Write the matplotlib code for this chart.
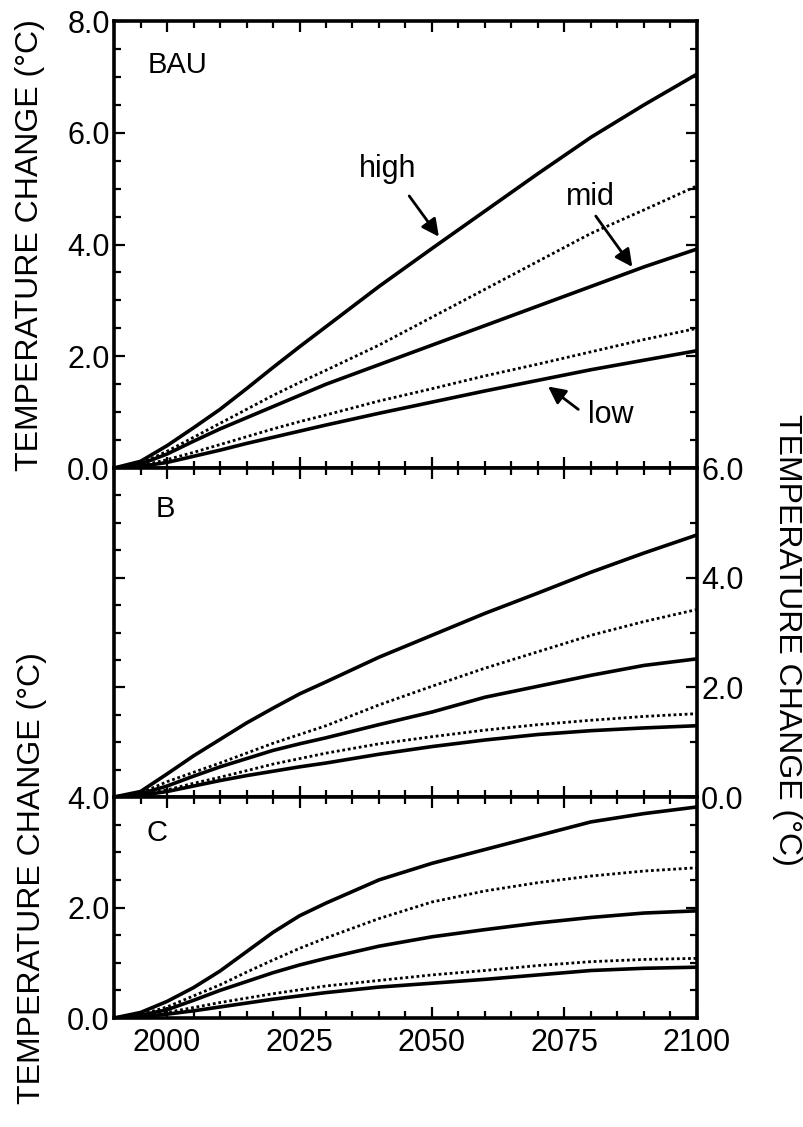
import matplotlib
matplotlib.use("Agg")
import matplotlib.pyplot as plt
from matplotlib.ticker import MultipleLocator, FormatStrFormatter

plt.rcParams['font.family'] = ['Liberation Sans', 'DejaVu Sans']

years = [1990, 1995, 2000, 2005, 2010, 2015, 2020, 2025, 2030, 2040, 2050, 2060, 2070, 2080, 2090, 2100]

# scenario BAU
bau_high = [0, 0.12, 0.4, 0.72, 1.05, 1.42, 1.8, 2.17, 2.53, 3.25, 3.93, 4.6, 5.27, 5.92, 6.5, 7.05]
bau_dot_hi = [0, 0.08, 0.3, 0.55, 0.8, 1.05, 1.3, 1.53, 1.75, 2.2, 2.7, 3.2, 3.7, 4.2, 4.62, 5.05]
bau_mid = [0, 0.07, 0.25, 0.48, 0.7, 0.9, 1.1, 1.3, 1.5, 1.85, 2.2, 2.55, 2.9, 3.25, 3.6, 3.92]
bau_dot_lo = [0, 0.04, 0.15, 0.28, 0.42, 0.56, 0.7, 0.83, 0.95, 1.2, 1.42, 1.65, 1.86, 2.08, 2.3, 2.5]
bau_low = [0, 0.03, 0.1, 0.21, 0.32, 0.44, 0.55, 0.66, 0.77, 0.98, 1.18, 1.38, 1.57, 1.76, 1.93, 2.1]

# scenario B
b_high = [0, 0.1, 0.42, 0.75, 1.05, 1.35, 1.62, 1.88, 2.1, 2.55, 2.95, 3.35, 3.72, 4.1, 4.45, 4.78]
b_dot_hi = [0, 0.07, 0.28, 0.45, 0.62, 0.8, 0.98, 1.14, 1.3, 1.68, 2.02, 2.35, 2.65, 2.95, 3.2, 3.42]
b_mid = [0, 0.06, 0.2, 0.38, 0.55, 0.7, 0.85, 0.97, 1.08, 1.32, 1.55, 1.82, 2.02, 2.22, 2.4, 2.52]
b_dot_lo = [0, 0.04, 0.13, 0.25, 0.36, 0.48, 0.6, 0.7, 0.8, 0.97, 1.1, 1.22, 1.32, 1.4, 1.47, 1.52]
b_low = [0, 0.03, 0.1, 0.2, 0.3, 0.39, 0.47, 0.55, 0.62, 0.78, 0.92, 1.04, 1.14, 1.21, 1.26, 1.3]

# scenario C
c_high = [0, 0.1, 0.3, 0.55, 0.85, 1.2, 1.55, 1.85, 2.08, 2.5, 2.8, 3.05, 3.3, 3.55, 3.7, 3.82]
c_dot_hi = [0, 0.06, 0.2, 0.4, 0.6, 0.83, 1.05, 1.26, 1.45, 1.8, 2.1, 2.3, 2.45, 2.57, 2.66, 2.72]
c_mid = [0, 0.05, 0.15, 0.32, 0.5, 0.66, 0.82, 0.96, 1.08, 1.3, 1.47, 1.6, 1.72, 1.82, 1.9, 1.94]
c_dot_lo = [0, 0.03, 0.1, 0.19, 0.28, 0.36, 0.44, 0.51, 0.58, 0.68, 0.78, 0.86, 0.95, 1.02, 1.06, 1.08]
c_low = [0, 0.02, 0.07, 0.13, 0.2, 0.27, 0.34, 0.4, 0.46, 0.56, 0.63, 0.7, 0.78, 0.86, 0.9, 0.92]

ylabel = "TEMPERATURE CHANGE (°C)"

fig = plt.figure(figsize=(8.04, 11.27), dpi=100)
L, W = 0.1418, 0.7251
ax1 = fig.add_axes([L, 0.5847, W, 0.3966])
ax2 = fig.add_axes([L, 0.2928, W, 0.2919])
ax3 = fig.add_axes([L, 0.0967, W, 0.1961])

solid = dict(color='black', lw=2.6, solid_capstyle='butt')
dotted = dict(color='black', lw=2.0, linestyle=(0, (1, 1)))


def draw(ax, high, dhi, mid, dlo, low):
    ax.plot(years, high, **solid)
    ax.plot(years, dhi, **dotted)
    ax.plot(years, mid, **solid)
    ax.plot(years, dlo, **dotted)
    ax.plot(years, low, **solid)


draw(ax1, bau_high, bau_dot_hi, bau_mid, bau_dot_lo, bau_low)
draw(ax2, b_high, b_dot_hi, b_mid, b_dot_lo, b_low)
draw(ax3, c_high, c_dot_hi, c_mid, c_dot_lo, c_low)

ax1.set_ylim(0, 8)
ax2.set_ylim(0, 6)
ax3.set_ylim(0, 4)

for ax in (ax1, ax2, ax3):
    ax.set_xlim(1990, 2100)
    ax.xaxis.set_major_locator(MultipleLocator(25))
    ax.xaxis.set_minor_locator(MultipleLocator(5))
    ax.yaxis.set_major_locator(MultipleLocator(2))
    ax.yaxis.set_minor_locator(MultipleLocator(0.5))
    ax.yaxis.set_major_formatter(FormatStrFormatter('%.1f'))
    ax.tick_params(which='both', direction='in', top=True, bottom=True,
                   left=True, right=True, labelsize=22, width=1.6)
    ax.tick_params(which='major', length=8)
    ax.tick_params(which='minor', length=5)
    ax.tick_params(axis='y', pad=3)
    ax.tick_params(axis='x', pad=7)
    for s in ax.spines.values():
        s.set_linewidth(2.6)

ax1.tick_params(labelbottom=False)
ax2.tick_params(labelbottom=False, labelleft=False)

# right-hand scale of the middle panel
ax2r = ax2.twinx()
ax2r.set_ylim(0, 6)
ax2r.yaxis.set_major_locator(MultipleLocator(2))
ax2r.yaxis.set_minor_locator(MultipleLocator(1))
ax2r.yaxis.set_major_formatter(FormatStrFormatter('%.1f'))
ax2r.tick_params(which='both', direction='in', labelsize=22, width=1.6, pad=3)
ax2r.tick_params(which='major', length=8)
ax2r.tick_params(which='minor', length=5)
ax2.tick_params(which='both', right=False)
for s in ax2r.spines.values():
    s.set_visible(False)

# panel names
ax1.text(1996.3, 7.22, "BAU", fontsize=21, ha='left', va='center')
ax2.text(1999.7, 5.25, "B", fontsize=21, ha='center', va='center')
ax3.text(1998.2, 3.34, "C", fontsize=21, ha='center', va='center')

arrow = dict(arrowstyle='-|>', color='black', lw=2, mutation_scale=26, shrinkA=0, shrinkB=0)
ax1.text(2041.6, 5.35, "high", fontsize=22, ha='center', va='center')
ax1.annotate("", xy=(2051.3, 4.14), xytext=(2045.7, 4.87), arrowprops=arrow)
ax1.text(2079.8, 4.85, "mid", fontsize=22, ha='center', va='center')
ax1.annotate("", xy=(2087.8, 3.6), xytext=(2080.9, 4.51), arrowprops=arrow)
ax1.text(2083.8, 0.95, "low", fontsize=22, ha='center', va='center')
ax1.annotate("", xy=(2071.9, 1.46), xytext=(2077.6, 1.05), arrowprops=arrow)

# axis titles
fig.text(30 / 804, 1 - 245 / 1127, ylabel, rotation=90, fontsize=23,
         ha='center', va='center')
fig.text(32 / 804, 1 - 878 / 1127, ylabel, rotation=90, fontsize=23,
         ha='center', va='center')
fig.text(787 / 804, 1 - 640 / 1127, ylabel, rotation=270, fontsize=23,
         ha='center', va='center')

fig.savefig("out.png", dpi=100)
